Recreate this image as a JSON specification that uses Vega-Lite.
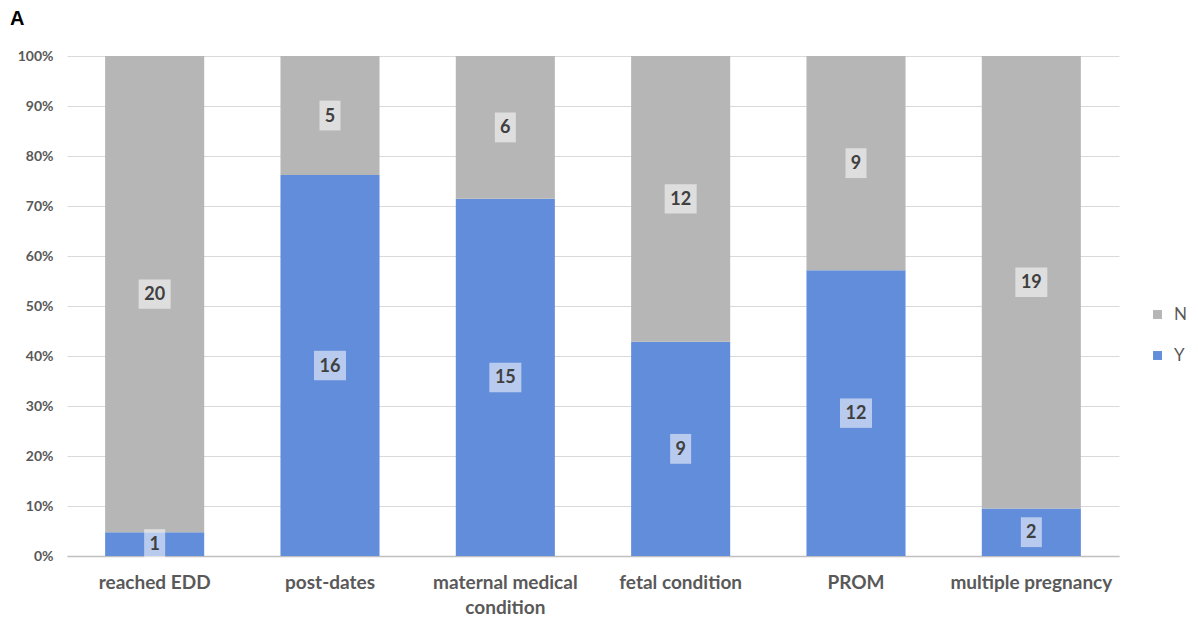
{
  "$schema": "https://vega.github.io/schema/vega-lite/v6.json",
  "autosize": "none",
  "width": 1052,
  "height": 500,
  "padding": {"left": 67, "top": 56, "right": 79, "bottom": 75},
  "background": "white",
  "title": {
    "text": "A",
    "anchor": "start",
    "frame": "group",
    "dx": -57,
    "offset": 20,
    "font": "Liberation Sans",
    "fontSize": 20,
    "fontWeight": "bold",
    "color": "#000000"
  },
  "data": {
    "values": [
      {"category": "reached EDD", "answer": "Y", "count": 1},
      {"category": "reached EDD", "answer": "N", "count": 20},
      {"category": "post-dates", "answer": "Y", "count": 16},
      {"category": "post-dates", "answer": "N", "count": 5},
      {"category": "maternal medical condition", "answer": "Y", "count": 15},
      {"category": "maternal medical condition", "answer": "N", "count": 6},
      {"category": "fetal condition", "answer": "Y", "count": 9},
      {"category": "fetal condition", "answer": "N", "count": 12},
      {"category": "PROM", "answer": "Y", "count": 12},
      {"category": "PROM", "answer": "N", "count": 9},
      {"category": "multiple pregnancy", "answer": "Y", "count": 2},
      {"category": "multiple pregnancy", "answer": "N", "count": 19}
    ]
  },
  "transform": [
    {
      "stack": "count",
      "groupby": ["category"],
      "sort": [{"field": "answer", "order": "descending"}],
      "offset": "normalize",
      "as": ["y0", "y1"]
    },
    {"calculate": "(datum.y0 + datum.y1) / 2", "as": "ymid"}
  ],
  "encoding": {
    "x": {
      "field": "category",
      "type": "nominal",
      "sort": null,
      "title": null,
      "scale": {"paddingInner": 0.435, "paddingOuter": 0.2175},
      "axis": {
        "labelAngle": 0,
        "labelFont": "Lato",
        "labelFontSize": 19,
        "labelFontWeight": "bold",
        "labelColor": "#595959",
        "labelPadding": 17,
        "labelLineHeight": 25,
        "labelBaseline": "top",
        "labelOverlap": false,
        "ticks": false,
        "domainColor": "#bfbfbf",
        "domainWidth": 1.5,
        "labelExpr": "datum.label == 'maternal medical condition' ? ['maternal medical', 'condition'] : datum.label"
      }
    }
  },
  "layer": [
    {
      "mark": {"type": "bar"},
      "encoding": {
        "y": {
          "field": "y1",
          "type": "quantitative",
          "title": null,
          "scale": {"domain": [0, 1], "nice": false},
          "axis": {
            "format": ".0%",
            "values": [0, 0.1, 0.2, 0.3, 0.4, 0.5, 0.6, 0.7, 0.8, 0.9, 1],
            "labelOverlap": false,
            "labelFont": "Lato",
            "labelFontSize": 14,
            "labelFontWeight": "bold",
            "labelColor": "#595959",
            "labelPadding": 14,
            "ticks": false,
            "domain": false,
            "gridColor": "#d9d9d9",
            "gridWidth": 1.2
          }
        },
        "y2": {"field": "y0"},
        "color": {
          "field": "answer",
          "type": "nominal",
          "scale": {"domain": ["N", "Y"], "range": ["#b6b6b6", "#628dda"]},
          "legend": {
            "title": null,
            "orient": "none",
            "legendX": 1082,
            "legendY": 250,
            "symbolType": "square",
            "symbolSize": 80,
            "symbolStrokeWidth": 0,
            "labelFont": "Lato",
            "labelFontSize": 17,
            "labelColor": "#595959",
            "labelOffset": 8,
            "rowPadding": 23
          }
        }
      }
    },
    {
      "mark": {"type": "point", "filled": true, "color": "white", "opacity": 0.55, "strokeWidth": 0},
      "encoding": {
        "y": {"field": "ymid", "type": "quantitative"},
        "shape": {
          "condition": {"test": "datum.count >= 10", "value": "M-1,-0.92H1V0.92H-1Z"},
          "value": "M-1,-1.42H1V1.42H-1Z"
        },
        "size": {
          "condition": {"test": "datum.count >= 10", "value": 1024},
          "value": 441
        }
      }
    },
    {
      "mark": {
        "type": "text",
        "font": "Lato",
        "fontSize": 18,
        "fontWeight": "bold",
        "color": "#404040",
        "baseline": "middle",
        "dy": 1
      },
      "encoding": {
        "y": {"field": "ymid", "type": "quantitative"},
        "text": {"field": "count", "type": "quantitative"}
      }
    }
  ],
  "config": {
    "view": {"stroke": null}
  }
}
